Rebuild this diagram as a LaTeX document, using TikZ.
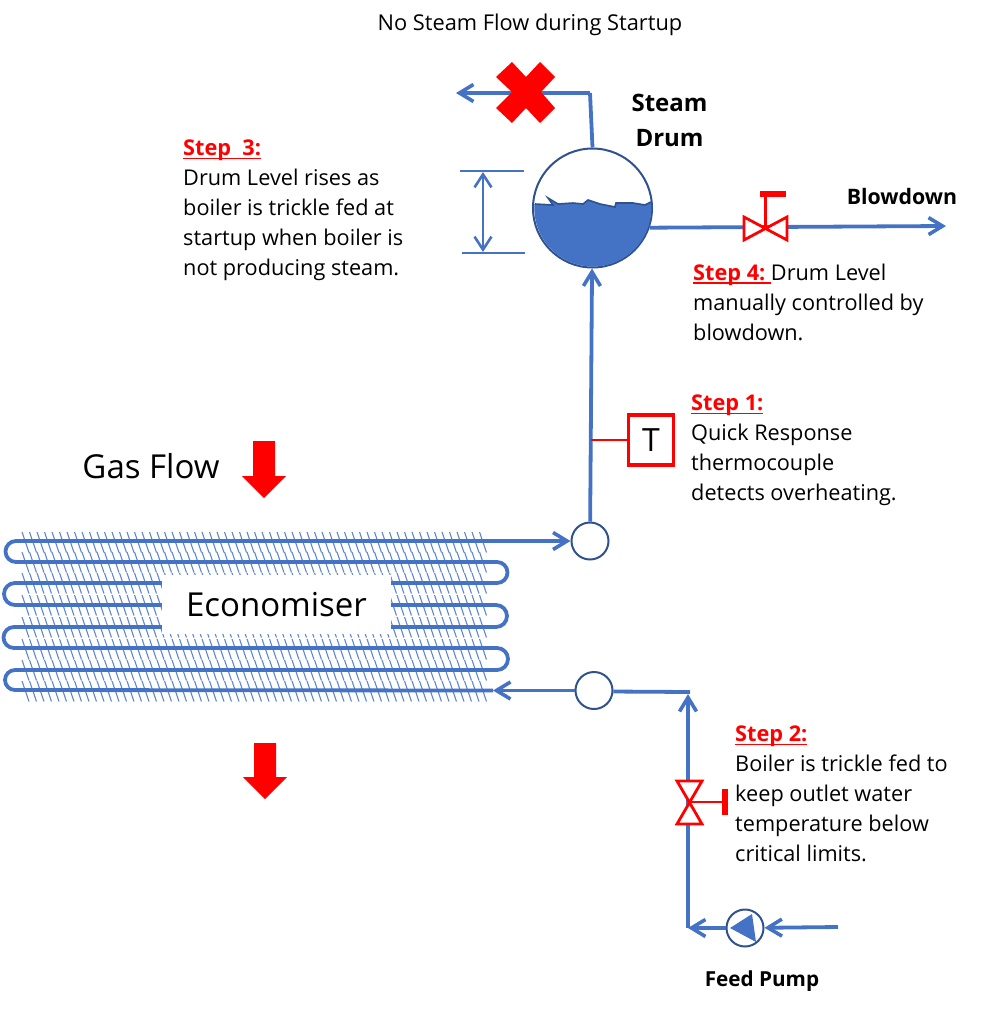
\documentclass[tikz,border=0pt]{standalone}
\usepackage{fontspec}
\setmainfont{Open Sans}
\usetikzlibrary{arrows.meta,positioning}
\definecolor{pipeblue}{RGB}{68,114,196}
\definecolor{rimblue}{RGB}{47,82,143}
\tikzset{
  pipe/.style = {draw=pipeblue, line width=3.8pt},
  flow/.style = {pipe, -{Straight Barb[length=14pt,width=17pt,line width=3.6pt]}},
  gauge/.style = {pipeblue, line width=2.6pt},
  hatch/.style = {pipeblue!85, line width=1.1pt},
  redline/.style = {red, line width=2.8pt},
  main/.style = {draw=rimblue, circle, fill=white, line width=2pt, inner sep=0pt, minimum size=37pt},
  note/.style = {anchor=north west, align=left, inner sep=0pt, font=\fontsize{21.7}{30}\selectfont},
  title/.style = {align=center, inner sep=0pt, font=\fontsize{24}{35}\selectfont\bfseries},
}
\newsavebox{\stepbox}
\newcommand{\steplabel}[1]{\sbox{\stepbox}{\textbf{#1}}\textcolor{red}{\usebox{\stepbox}\llap{\rule[-3.5pt]{\wd\stepbox}{1.8pt}}}}
\begin{document}
\begin{tikzpicture}[x=1pt, y=-1pt]
  \useasboundingbox (0,0) rectangle (988,1010);
  % hatching over the tube rows
  \foreach \rowy in {532,552,573,595,617,639,660,681}
    \foreach \hatchx in {22,29.5,...,484}
      \draw[hatch] (\hatchx,\rowy) -- ++(7,20.5);
  % equipment
  \node[main, minimum size=119pt] (drum) at (592.5,208) {};
  \node[main] (outlet) at (590,541) {};
  \node[main] (inlet) at (594,690.5) {};
  \node[main] (pump) at (745,928) {};
  \node[draw=red, line width=3.4pt, minimum width=45pt, minimum height=50pt, inner sep=0pt,
        font=\fontsize{32}{32}\selectfont] (tbox) at (651,440) {T};
  \coordinate (tubein) at (493,690.5);
  \coordinate (steamtop) at (590,93);
  \coordinate (steamend) at (456,93);
  \coordinate (bdend) at (946,226);
  \coordinate (corner) at (690,692);
  \coordinate (pumpout) at (688,928);
  \coordinate (feed) at (838,927);
  \coordinate (tjoin) at (591,440);
  % drum water
  \fill[pipeblue] (535,204) -- (553,205) -- (548,198) -- (558,204) -- (573,203) -- (583,204)
    -- (588,200) -- (600,204) -- (615,207) -- (616,203) -- (633,203) -- (645,205) -- (651,202)
    arc[start angle=-6, end angle=184, radius=58.5] -- cycle;
  \draw[rimblue, line width=1.6pt] (535,204) -- (553,205) -- (548,198) -- (558,204) -- (573,203)
    -- (583,204) -- (588,200) -- (600,204) -- (615,207) -- (616,203) -- (633,203) -- (645,205) -- (651,202);
  % tube bank
  \draw[flow] (inlet) -- (tubein);
  \draw[pipe] (tubein) -- (15,690) arc[start angle=90, end angle=270, radius=10]
    -- (497,670) arc[start angle=90, end angle=-90, radius=11]
    -- (14,648) arc[start angle=90, end angle=270, radius=10.5]
    -- (496,627) arc[start angle=90, end angle=-90, radius=11]
    -- (15,605) arc[start angle=90, end angle=270, radius=11]
    -- (497,583) arc[start angle=90, end angle=-90, radius=10.5]
    -- (16,562) arc[start angle=90, end angle=270, radius=10.5] -- (500,541);
  \draw[flow] (500,541) -- (outlet);
  \node[fill=white, inner sep=0pt, minimum width=229pt, minimum height=59pt,
        font=\fontsize{33}{33}\selectfont] (econ) at (276.5,604.5) {Economiser};
  % pipework
  \draw[flow] (outlet) -- (drum);
  \draw[pipe] (drum.north) -- (steamtop);
  \draw[flow] (steamtop) -- (steamend);
  \draw[flow] (drum.-19) -- (bdend);
  \draw[pipe] (inlet.-3) -- (corner);
  \draw[flow, shorten >=2pt] (pumpout) -- (688,692);
  \draw[flow] (pump) -- (pumpout);
  \draw[flow] (feed) -- (pump);
  \fill[pipeblue] (730,928) -- (752,914) -- (756,942) -- cycle;
  \draw[redline] (tjoin) -- (tbox);
  % level gauge
  \coordinate (lvltop) at (483,172);
  \coordinate (lvlbot) at (483,252);
  \draw[gauge] (460,171) -- (524,171);
  \draw[gauge] (462,253) -- (525,253);
  \draw[gauge, {Straight Barb[length=13pt,width=17pt,line width=2.6pt]}-{Straight Barb[length=13pt,width=17pt,line width=2.6pt]}] (lvltop) -- (lvlbot);
  % valves
  \draw[redline, fill=white] (744,217) -- (787,240) -- (787,217) -- (744,240) -- cycle;
  \draw[redline] (765.5,228.5) -- (765.5,194);
  \draw[red, line width=6pt] (760,194) -- (786,194);
  \draw[redline, fill=white] (677,781) -- (702,781) -- (677,824) -- (702,824) -- cycle;
  \draw[redline] (689,802) -- (724,802);
  \draw[red, line width=6pt] (725,789) -- (725,815);
  % red marks
  \fill[red] (526,77) -- (540,62) -- (555,77) -- (541,92) -- (555,108) -- (540,123) -- (526,108)
    -- (512,123) -- (496,108) -- (512,92) -- (496,77) -- (512,62) -- cycle;
  \fill[red] (253,441) -- (275,441) -- (275,476) -- (286,476) -- (264,498) -- (242,476) -- (253,476) -- cycle;
  \fill[red] (254,743) -- (276,743) -- (276,777) -- (287,777) -- (265,799) -- (243,777) -- (254,777) -- cycle;
  % text
  \node[font=\fontsize{21.8}{24}\selectfont, inner sep=0pt] (head) at (530,25) {No Steam Flow during Startup};
  \node[title] (drumlbl) at (669.5,120) {Steam\\Drum};
  \node[font=\fontsize{21.3}{24}\selectfont\bfseries, inner sep=0pt] (bdlbl) at (902,197) {Blowdown};
  \node[font=\fontsize{20.7}{24}\selectfont\bfseries, inner sep=0pt] (pumplbl) at (762,981) {Feed Pump};
  \node[font=\fontsize{33}{33}\selectfont, inner sep=0pt] (gas) at (151,466) {Gas Flow};
  \node[note] (s3) at (183,140) {\steplabel{\color{red}Step\ \ 3:}\\Drum Level rises as\\boiler is trickle fed at\\startup when boiler is\\not producing steam.};
  \node[note] (s4) at (693,264) {\steplabel{\color{red}Step 4:\ }Drum Level\\manually controlled by\\blowdown.};
  \node[note] (s1) at (691,395) {\steplabel{\color{red}Step 1:}\\Quick Response\\thermocouple\\detects overheating.};
  \node[note] (s2) at (735,726) {\steplabel{\color{red}Step 2:}\\Boiler is trickle fed to\\keep outlet water\\temperature below\\critical limits.};
\end{tikzpicture}
\end{document}
